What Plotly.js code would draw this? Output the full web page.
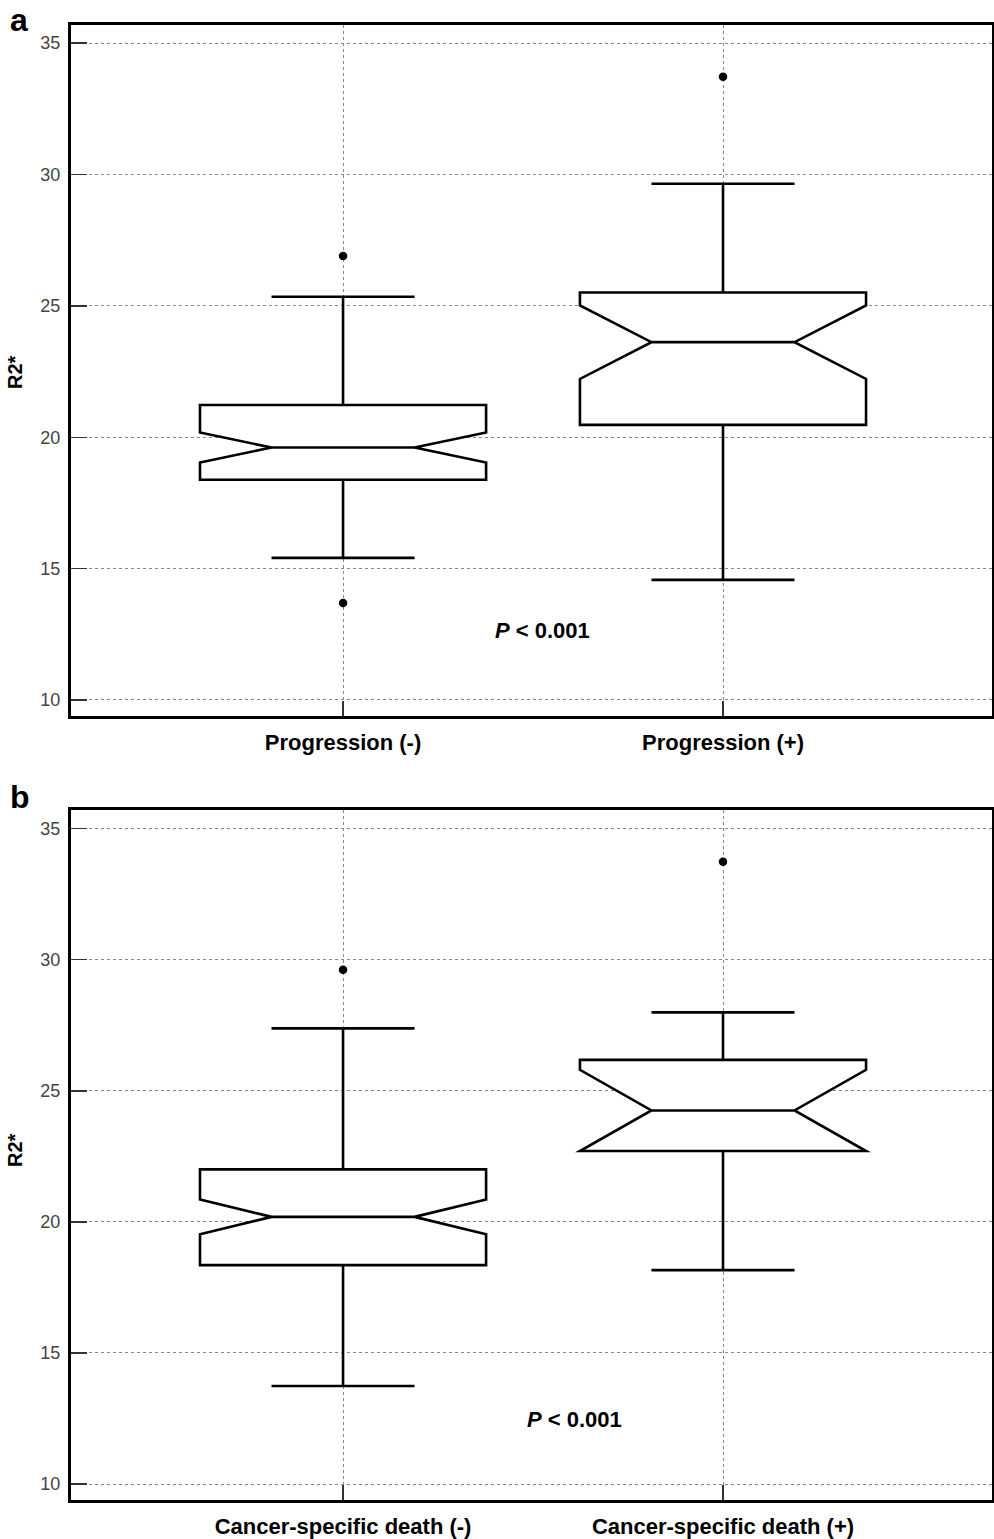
<!DOCTYPE html>
<html>
<head>
<meta charset="utf-8">
<script src="https://cdn.plot.ly/plotly-3.0.1.min.js"></script>
<style>html,body{margin:0;padding:0;background:#fff}#chart{width:994px;height:1539px}</style>
</head>
<body>
<div id="chart"></div>
<script>
// Panel a
const catsA = ["Progression (-)", "Progression (+)"];
const q1A = [18.38, 20.47];
const medA = [19.61, 23.62];
const q3A = [21.23, 25.51];
const lowA = [15.41, 14.57];
const upA = [25.35, 29.65];
const notchA = [0.57, 1.40];
const outXA = ["Progression (-)", "Progression (-)", "Progression (+)"];
const outYA = [26.9, 13.69, 33.72];

// Panel b
const catsB = ["Cancer-specific death (-)", "Cancer-specific death (+)"];
const q1B = [18.35, 22.70];
const medB = [20.19, 24.25];
const q3B = [22.0, 26.18];
const lowB = [13.74, 18.16];
const upB = [27.38, 27.99];
const notchB = [0.66, 1.55];
const outXB = ["Cancer-specific death (-)", "Cancer-specific death (+)"];
const outYB = [29.62, 33.74];

const yTicks = [10, 15, 20, 25, 30, 35];
const yTitle = "R2*";
const pText = "<i>P</i> < 0.001";

const FONT = "Liberation Sans, Arial, sans-serif";

function boxTrace(x, q1, med, q3, lo, up, ns, xa, ya) {
  return {
    type: "box", x: x, q1: q1, median: med, q3: q3,
    lowerfence: lo, upperfence: up, notchspan: ns,
    notched: true, notchwidth: 0.25, width: 0.753, whiskerwidth: 0.5,
    boxpoints: false, fillcolor: "#ffffff",
    line: {color: "#000000", width: 2.6},
    xaxis: xa, yaxis: ya, showlegend: false, hoverinfo: "skip"
  };
}
function outTrace(x, y, xa, ya) {
  return {
    type: "scatter", mode: "markers", x: x, y: y,
    marker: {color: "#000000", size: 8.5},
    xaxis: xa, yaxis: ya, showlegend: false, hoverinfo: "skip"
  };
}

const data = [
  boxTrace(catsA, q1A, medA, q3A, lowA, upA, notchA, "x", "y"),
  outTrace(outXA, outYA, "x", "y"),
  boxTrace(catsB, q1B, medB, q3B, lowB, upB, notchB, "x2", "y2"),
  outTrace(outXB, outYB, "x2", "y2")
];

function xAxis(anchor, cats) {
  return {
    anchor: anchor, domain: [71/994, 992/994], type: "category",
    categoryorder: "array", categoryarray: cats,
    range: [-0.716, 1.708],
    showline: true, mirror: true, linecolor: "#000", linewidth: 3,
    showgrid: true, gridcolor: "#888", griddash: "dot", gridwidth: 1,
    ticks: "inside", ticklen: 15, tickcolor: "#333", tickwidth: 1.5,
    tickfont: {family: FONT, size: 22, color: "#000", weight: "bold"},
    ticklabelstandoff: 5,
    zeroline: false, automargin: false, fixedrange: true
  };
}
function yAxis(anchor, dom) {
  return {
    anchor: anchor, domain: dom,
    range: [9.39, 35.71],
    tickmode: "array", tickvals: yTicks, ticktext: yTicks.map(String),
    showline: true, mirror: true, linecolor: "#000", linewidth: 3,
    showgrid: true, gridcolor: "#888", griddash: "dot", gridwidth: 1,
    ticks: "inside", ticklen: 16, tickcolor: "#333", tickwidth: 1.5,
    tickfont: {family: FONT, size: 18, color: "#444"},
    ticklabelstandoff: 4,
    zeroline: false, automargin: false, fixedrange: true
  };
}

const titleFont = {family: FONT, size: 20, color: "#000", weight: "bold"};
const layout = {
  width: 994, height: 1539,
  margin: {l: 0, r: 0, t: 0, b: 0},
  paper_bgcolor: "#fff", plot_bgcolor: "#fff",
  showlegend: false,
  xaxis: xAxis("y", catsA),
  yaxis: yAxis("x", [1 - 716/1539, 1 - 24.5/1539]),
  xaxis2: xAxis("y2", catsB),
  yaxis2: yAxis("x2", [1 - 1500/1539, 1 - 810/1539]),
  annotations: [
    {text: yTitle, xref: "paper", yref: "paper", x: 15/994, y: 1 - 372/1539, textangle: -90,
     xanchor: "center", yanchor: "middle", showarrow: false, font: titleFont},
    {text: yTitle, xref: "paper", yref: "paper", x: 15/994, y: 1 - 1150/1539, textangle: -90,
     xanchor: "center", yanchor: "middle", showarrow: false, font: titleFont},
    {text: pText, xref: "x", yref: "y", x: 0.526, y: 12.63, showarrow: false,
     font: {family: FONT, size: 22, color: "#000", weight: "bold"}},
    {text: pText, xref: "x2", yref: "y2", x: 0.61, y: 12.45, showarrow: false,
     font: {family: FONT, size: 22, color: "#000", weight: "bold"}},
    {text: "a", xref: "paper", yref: "paper", x: 8/994, y: 1 - 20/1539, xanchor: "left", yanchor: "middle",
     showarrow: false, font: {family: FONT, size: 32, color: "#000", weight: "bold"}},
    {text: "b", xref: "paper", yref: "paper", x: 8/994, y: 1 - 797/1539, xanchor: "left", yanchor: "middle",
     showarrow: false, font: {family: FONT, size: 32, color: "#000", weight: "bold"}}
  ]
};

Plotly.newPlot("chart", data, layout, {staticPlot: true, displayModeBar: false});
</script>
</body>
</html>
